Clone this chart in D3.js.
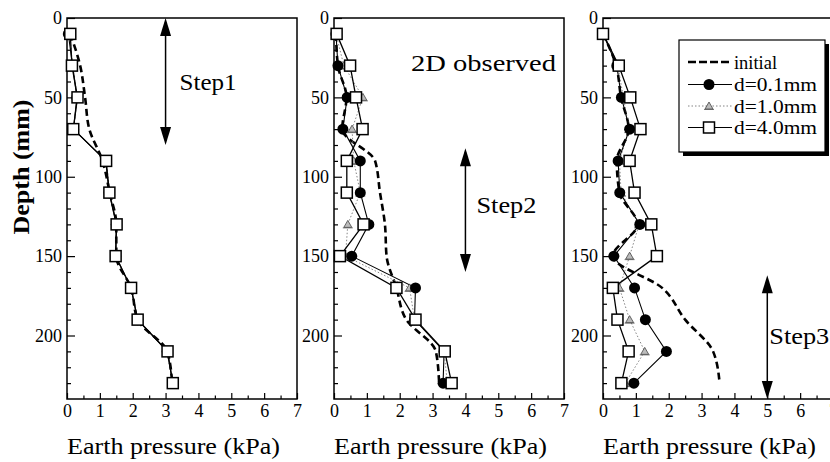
<!DOCTYPE html>
<html>
<head>
<meta charset="utf-8">
<script src="https://cdn.jsdelivr.net/npm/d3@7"></script>
<style>
  body { margin: 0; background: #fff; }
  svg { display: block; }
  text { font-family: "Liberation Serif", "Times New Roman", serif; fill: #000; }
</style>
</head>
<body>
<svg id="chart" width="830" height="462"></svg>
<script>
// Measurement depths (mm) shared by every profile
const depthMm = [10, 30, 50, 70, 90, 110, 130, 150, 170, 190, 210, 230];
const pressureTicks = [0, 1, 2, 3, 4, 5, 6, 7];
const depthTicks = [0, 50, 100, 150, 200];
const seriesNames = ["initial", "d=0.1mm", "d=1.0mm", "d=4.0mm"];

// Earth pressure (kPa) — Step 1
const step1Initial = [0.10, 0.40, 0.55, 0.68, 1.08, 1.30, 1.50, 1.50, 1.95, 2.15, 3.05, 3.20];
const step1D01     = [0.04, 0.17, 0.30, 0.20, 1.18, 1.28, 1.50, 1.48, 1.95, 2.15, 3.05, 3.22];
const step1D10     = [0.08, 0.17, 0.32, 0.20, 1.20, 1.30, 1.50, 1.48, 1.95, 2.15, 3.06, 3.22];
const step1D40     = [0.10, 0.15, 0.32, 0.19, 1.19, 1.29, 1.51, 1.48, 1.95, 2.15, 3.06, 3.22];

// Earth pressure (kPa) — Step 2
const step2Initial = [0.06, 0.12, 0.38, 0.25, 1.25, 1.40, 1.55, 1.60, 1.90, 2.20, 3.10, 3.20];
const step2D01     = [0.06, 0.12, 0.40, 0.27, 0.80, 0.80, 1.06, 0.54, 2.48, 2.45, 3.35, 3.32];
const step2D10     = [0.06, 0.30, 0.88, 0.55, 0.60, 0.80, 0.42, 0.35, 2.30, 2.45, 3.35, 3.45];
const step2D40     = [0.08, 0.49, 0.67, 0.87, 0.39, 0.39, 0.90, 0.18, 1.90, 2.48, 3.37, 3.58];

// Earth pressure (kPa) — Step 3
const step3Initial = [0.00, 0.40, 0.55, 0.78, 0.42, 0.50, 1.05, 0.30, 1.80, 2.50, 3.35, 3.55];
const step3D01     = [0.00, 0.42, 0.56, 0.81, 0.46, 0.51, 1.12, 0.33, 0.96, 1.29, 1.93, 0.94];
const step3D10     = [0.02, 0.45, 0.62, 0.80, 0.50, 0.55, 1.10, 0.81, 0.50, 0.81, 1.27, 0.68];
const step3D40     = [0.00, 0.48, 0.83, 1.14, 0.81, 0.96, 1.47, 1.64, 0.30, 0.44, 0.78, 0.56];

const svg = d3.select("#chart");
const plotTop = 18, plotBottom = 399, plotWidth = 230;

const panels = [
  { left: 67,  data: [step1Initial, step1D01, step1D10, step1D40],
    step: { label: "Step1", at: 4 - 1, from: 0, to: 80, textDepth: 40, dx: 14, dy: 8, len: 57 } },
  { left: 334, data: [step2Initial, step2D01, step2D10, step2D40],
    step: { label: "Step2", at: 4, from: 82, to: 160, textDepth: 121, dx: 11, dy: 3, len: 60 },
    title: "2D observed" },
  { left: 603, data: [step3Initial, step3D01, step3D10, step3D40],
    step: { label: "Step3", at: 5, from: 162, to: 240, textDepth: 200, dx: 2, dy: 8, len: 60 },
    legend: true }
];

const triPath = "M0,-4L4,3L-4,3Z";
function drawTri(sel) {
  sel.append("path").attr("d", triPath)
    .attr("fill", "#bbb").attr("stroke", "#444").attr("stroke-width", 0.8);
  sel.append("path").attr("d", "M-5,3.5L5,3.5").attr("stroke", "#555").attr("stroke-width", 0.8);
}

function arrowHead(g, x, yTip, dir) {
  // dir = -1 points up, +1 points down
  const L = 18, W = 5.5;
  g.append("path")
    .attr("d", `M${x},${yTip}L${x - W},${yTip - dir * L}L${x + W},${yTip - dir * L}Z`)
    .attr("fill", "#000");
}

panels.forEach(p => {
  const x = d3.scaleLinear().domain([0, 7]).range([p.left, p.left + plotWidth]);
  const y = d3.scaleLinear().domain([0, 240]).range([plotTop, plotBottom]);
  const g = svg.append("g");

  // Frame
  g.append("rect")
    .attr("x", x(0)).attr("y", y(0))
    .attr("width", x(7) - x(0)).attr("height", y(240) - y(0))
    .attr("fill", "none").attr("stroke", "#000").attr("stroke-width", 1.5);

  // X axis: inward ticks, minor every 0.5 kPa
  const xMinor = g.append("g").attr("transform", `translate(0,${plotBottom})`)
    .call(d3.axisBottom(x).tickValues(d3.range(0.5, 7, 1)).tickSize(-3.5).tickFormat(""));
  const xMajor = g.append("g").attr("transform", `translate(0,${plotBottom})`)
    .call(d3.axisBottom(x).tickValues(pressureTicks).tickSize(-6).tickPadding(5).tickFormat(d3.format("d")));
  // Y axis: inward ticks, minor every 10 mm
  const yMinor = g.append("g").attr("transform", `translate(${p.left},0)`)
    .call(d3.axisLeft(y).tickValues(d3.range(10, 240, 10).filter(v => v % 50)).tickSize(-4).tickFormat(""));
  const yMajor = g.append("g").attr("transform", `translate(${p.left},0)`)
    .call(d3.axisLeft(y).tickValues(depthTicks).tickSize(-8).tickPadding(5).tickFormat(d3.format("d")));
  [xMinor, xMajor, yMinor, yMajor].forEach(a => {
    a.select(".domain").remove();
    a.selectAll("line").attr("stroke", "#000").attr("stroke-width", 1.2);
    a.selectAll("text").style("font-family", '"Liberation Serif","Times New Roman",serif')
      .style("font-size", "18px").attr("fill", "#000");
  });

  // X axis title
  g.append("text").attr("x", x(0)).attr("y", 454)
    .attr("textLength", 213).attr("lengthAdjust", "spacingAndGlyphs")
    .style("font-size", "24px").text("Earth pressure (kPa)");

  // Step arrow
  const s = p.step;
  const ax = x(s.at);
  g.append("line").attr("x1", ax).attr("x2", ax)
    .attr("y1", y(s.from) + 4).attr("y2", y(s.to) - 4)
    .attr("stroke", "#000").attr("stroke-width", 1.5);
  arrowHead(g, ax, y(s.from), -1);
  arrowHead(g, ax, y(s.to), 1);
  g.append("text").attr("x", ax + s.dx).attr("y", y(s.textDepth) + s.dy)
    .attr("textLength", s.len).attr("lengthAdjust", "spacingAndGlyphs")
    .style("font-size", "23px").text(s.label);

  if (p.title) {
    g.append("text").attr("x", 411).attr("y", 71)
      .attr("textLength", 145).attr("lengthAdjust", "spacingAndGlyphs")
      .style("font-size", "23px").text(p.title);
  }

  const pts = arr => arr.map((v, i) => [x(v), y(depthMm[i])]);
  const line = d3.line();
  const smooth = d3.line().curve(d3.curveMonotoneY);

  // Profiles
  g.append("path").attr("d", smooth(pts(p.data[0])))
    .attr("fill", "none").attr("stroke", "#000").attr("stroke-width", 2.6)
    .attr("stroke-dasharray", "7,4");
  g.append("path").attr("d", line(pts(p.data[2])))
    .attr("fill", "none").attr("stroke", "#777").attr("stroke-width", 0.9)
    .attr("stroke-dasharray", "1.5,2");
  g.append("path").attr("d", line(pts(p.data[1])))
    .attr("fill", "none").attr("stroke", "#000").attr("stroke-width", 1.1);
  g.append("path").attr("d", line(pts(p.data[3])))
    .attr("fill", "none").attr("stroke", "#000").attr("stroke-width", 1.3);

  // Markers
  pts(p.data[2]).forEach(([px, py]) => {
    drawTri(g.append("g").attr("transform", `translate(${px},${py})`));
  });
  g.selectAll(null).data(pts(p.data[1])).join("circle")
    .attr("cx", d => d[0]).attr("cy", d => d[1]).attr("r", 5.5).attr("fill", "#000");
  g.selectAll(null).data(pts(p.data[3])).join("rect")
    .attr("x", d => d[0] - 5.5).attr("y", d => d[1] - 5.5)
    .attr("width", 11).attr("height", 11)
    .attr("fill", "#fff").attr("stroke", "#000").attr("stroke-width", 1.5);

  if (p.legend) {
    const lg = svg.append("g").attr("transform", "translate(679,40)");
    lg.append("rect").attr("x", 4).attr("y", 4).attr("width", 146).attr("height", 112).attr("fill", "#000");
    lg.append("rect").attr("width", 146).attr("height", 112)
      .attr("fill", "#fff").attr("stroke", "#000").attr("stroke-width", 1.2);
    const rowY = [22, 44.5, 66, 87.5];
    const textLen = [43, 83, 83, 83];
    seriesNames.forEach((name, i) => {
      const row = lg.append("g").attr("transform", `translate(0,${rowY[i]})`);
      const ln = row.append("line").attr("x1", 9).attr("x2", 53).attr("y1", 0).attr("y2", 0);
      if (i === 0) ln.attr("stroke", "#000").attr("stroke-width", 2.6).attr("stroke-dasharray", "8,3");
      else if (i === 2) ln.attr("stroke", "#777").attr("stroke-width", 0.9).attr("stroke-dasharray", "1.5,2");
      else ln.attr("stroke", "#000").attr("stroke-width", 1.2);
      if (i === 1) row.append("circle").attr("cx", 30).attr("r", 5.5).attr("fill", "#000");
      if (i === 2) drawTri(row.append("g").attr("transform", "translate(30,0)"));
      if (i === 3) row.append("rect").attr("x", 24.5).attr("y", -5.5).attr("width", 11).attr("height", 11)
        .attr("fill", "#fff").attr("stroke", "#000").attr("stroke-width", 1.5);
      row.append("text").attr("x", 55).attr("y", 6.5)
        .attr("textLength", textLen[i]).attr("lengthAdjust", "spacingAndGlyphs")
        .style("font-size", "19px").text(name);
    });
  }
});

// Shared depth axis title
svg.append("text")
  .attr("transform", "translate(29,167) rotate(-90)")
  .attr("text-anchor", "middle")
  .attr("textLength", 135).attr("lengthAdjust", "spacingAndGlyphs")
  .style("font-size", "24px").style("font-weight", "bold")
  .text("Depth (mm)");
</script>
</body>
</html>
